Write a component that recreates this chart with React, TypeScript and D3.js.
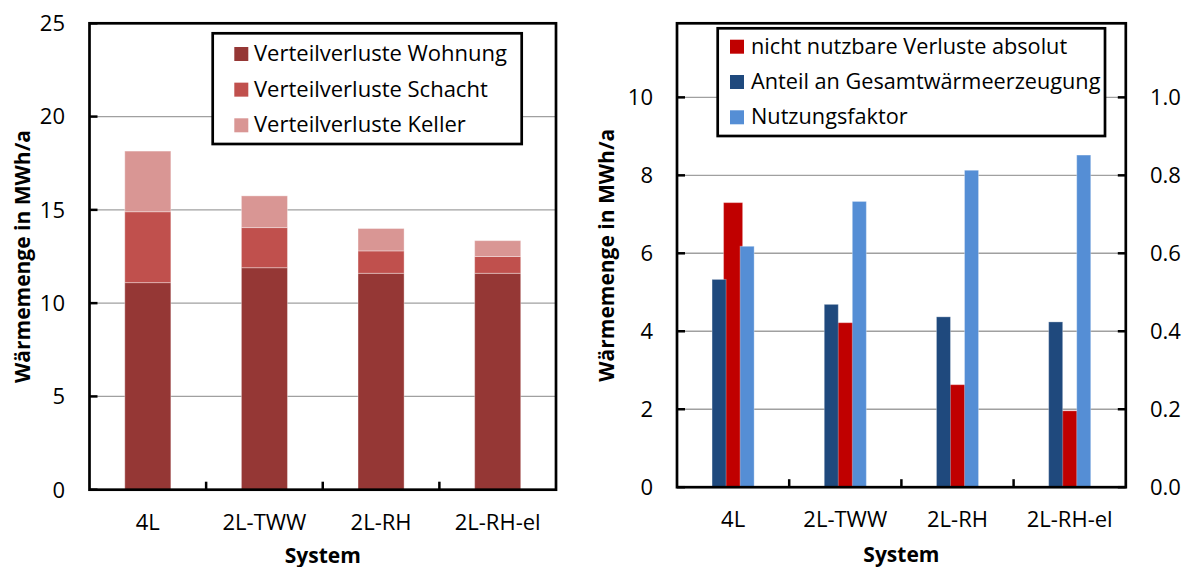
import React from 'react';
import * as d3 from 'd3';

const systems = ['4L', '2L-TWW', '2L-RH', '2L-RH-el'];

// Left chart: stacked distribution losses (MWh/a)
const verlusteWohnung = [11.1, 11.9, 11.6, 11.6];
const verlusteSchacht = [3.8, 2.15, 1.2, 0.9];
const verlusteKeller = [3.25, 1.7, 1.2, 0.85];
const leftTicks = [0, 5, 10, 15, 20, 25];
const leftLegend = ['Verteilverluste Wohnung', 'Verteilverluste Schacht', 'Verteilverluste Keller'];
const leftColors = ['#953735', '#C0504D', '#D99694'];

// Right chart
const nichtNutzbar = [7.3, 4.22, 2.63, 1.96]; // primary axis, MWh/a
const anteilGesamt = [0.533, 0.469, 0.437, 0.424]; // secondary axis
const nutzungsfaktor = [0.618, 0.733, 0.813, 0.852]; // secondary axis
const rightPrimaryTicks = [0, 2, 4, 6, 8, 10];
const rightSecondaryTicks = [0, 0.2, 0.4, 0.6, 0.8, 1.0];
const rightLegend = ['nicht nutzbare Verluste absolut', 'Anteil an Gesamtwärmeerzeugung', 'Nutzungsfaktor'];
const rightColors = ['#C00000', '#1F497D', '#558ED5'];

const FONT = "'Open Sans', sans-serif";
const FS = 22;
const TITLE_FS = 21;
const GRID = '#A0A0A0';

export default function App() {
  // ---------- Left chart ----------
  const L = { x0: 89.5, x1: 556, y0: 23.3, y1: 489.7 };
  const xL = d3.scaleBand<string>().domain(systems).range([L.x0, L.x1]).padding(0);
  const yL = d3.scaleLinear().domain([0, 25]).range([L.y1, L.y0]);
  const stackRows = systems.map((s, i) => ({
    system: s,
    w: verlusteWohnung[i],
    s: verlusteSchacht[i],
    k: verlusteKeller[i],
  }));
  const stacked = d3.stack<any>().keys(['w', 's', 'k'])(stackRows);
  const barWL = xL.bandwidth() * 0.395;

  // ---------- Right chart ----------
  const R = { x0: 677, x1: 1125.8, y0: 23.3, y1: 487.2 };
  const xR = d3.scaleBand<string>().domain(systems).range([R.x0, R.x1]).padding(0);
  const yR = d3.scaleLinear().domain([0, 11.9]).range([R.y1, R.y0]);
  const yR2 = d3.scaleLinear().domain([0, 1.19]).range([R.y1, R.y0]);
  const slot = xR.bandwidth() * 0.125;
  const redW = xR.bandwidth() * 0.17;

  const frame = (P: any) => (
    <rect x={P.x0} y={P.y0} width={P.x1 - P.x0} height={P.y1 - P.y0} fill="none" stroke="#000" strokeWidth={2.7} />
  );

  return (
    <svg width={1188} height={567} style={{ position: 'absolute', left: 0, top: 0, background: '#fff' }} fontFamily={FONT}>
      <rect x={0} y={0} width={1188} height={567} fill="#fff" />

      {/* ===== LEFT CHART ===== */}
      {leftTicks.filter((t) => t > 0 && t < 25).map((t) => (
        <line key={'lg' + t} x1={L.x0} x2={L.x1} y1={yL(t)} y2={yL(t)} stroke={GRID} strokeWidth={1.4} />
      ))}
      {stacked.map((layer, li) =>
        layer.map((d, i) => (
          <rect
            key={'lb' + li + '-' + i}
            x={(xL(systems[i]) as number) + (xL.bandwidth() - barWL) / 2}
            y={yL(d[1])}
            width={barWL}
            height={yL(d[0]) - yL(d[1])}
            fill={leftColors[li]}
            stroke="rgba(255,255,255,0.35)"
            strokeWidth={1}
          />
        ))
      )}
      {frame(L)}
      {leftTicks.map((t) => (
        <g key={'lt' + t}>
          <line x1={L.x0} x2={L.x0 + 8} y1={yL(t)} y2={yL(t)} stroke="#000" strokeWidth={2.5} />
          <text x={65} y={yL(t) + 7.8} textAnchor="end" fontSize={FS} fill="#000">{t}</text>
        </g>
      ))}
      {systems.slice(1).map((s) => (
        <line key={'lxt' + s} x1={xL(s)} x2={xL(s)} y1={L.y1} y2={L.y1 - 8} stroke="#000" strokeWidth={2.5} />
      ))}
      {systems.map((s) => (
        <text key={'lxl' + s} x={(xL(s) as number) + xL.bandwidth() / 2} y={L.y1 + 40} textAnchor="middle" fontSize={FS} fill="#000">{s}</text>
      ))}
      <text x={(L.x0 + L.x1) / 2} y={562.5} textAnchor="middle" fontSize={TITLE_FS} fontWeight="bold" fill="#000">System</text>
      <text transform={`translate(30,${(L.y0 + L.y1) / 2}) rotate(-90)`} textAnchor="middle" fontSize={TITLE_FS} fontWeight="bold" fill="#000">Wärmemenge in MWh/a</text>

      {/* left legend */}
      <rect x={212.7} y={33.3} width={309} height={110.7} fill="#fff" stroke="#000" strokeWidth={2.7} />
      {leftLegend.map((name, i) => {
        const cy = 54 + i * 35.65;
        return (
          <g key={'ll' + i}>
            <rect x={234.3} y={cy - 7} width={14} height={14} fill={leftColors[i]} />
            <text x={254} y={cy + 7} fontSize={FS} fill="#000">{name}</text>
          </g>
        );
      })}

      {/* ===== RIGHT CHART ===== */}
      {rightPrimaryTicks.filter((t) => t > 0).map((t) => (
        <line key={'rg' + t} x1={R.x0} x2={R.x1} y1={yR(t)} y2={yR(t)} stroke={GRID} strokeWidth={1.4} />
      ))}
      {systems.map((s, i) => {
        const c = (xR(s) as number) + xR.bandwidth() / 2;
        return (
          <g key={'rb' + s}>
            <rect x={c - redW / 2} y={yR(nichtNutzbar[i])} width={redW} height={yR(0) - yR(nichtNutzbar[i])} fill={rightColors[0]} stroke="rgba(255,255,255,0.3)" strokeWidth={1} />
            <rect x={c - slot * 1.5} y={yR2(anteilGesamt[i])} width={slot} height={yR2(0) - yR2(anteilGesamt[i])} fill={rightColors[1]} stroke="rgba(255,255,255,0.3)" strokeWidth={1} />
            <rect x={c + slot * 0.5} y={yR2(nutzungsfaktor[i])} width={slot} height={yR2(0) - yR2(nutzungsfaktor[i])} fill={rightColors[2]} stroke="rgba(255,255,255,0.3)" strokeWidth={1} />
          </g>
        );
      })}
      {frame(R)}
      {rightPrimaryTicks.map((t) => (
        <g key={'rt' + t}>
          <line x1={R.x0} x2={R.x0 + 8} y1={yR(t)} y2={yR(t)} stroke="#000" strokeWidth={2.5} />
          <text x={653} y={yR(t) + 7.8} textAnchor="end" fontSize={FS} fill="#000">{t}</text>
        </g>
      ))}
      {rightSecondaryTicks.map((t) => (
        <g key={'rt2' + t}>
          <line x1={R.x1} x2={R.x1 - 8} y1={yR2(t)} y2={yR2(t)} stroke="#000" strokeWidth={2.5} />
          <text x={1150} y={yR2(t) + 7.8} textAnchor="start" fontSize={FS} fill="#000">{d3.format('.1f')(t)}</text>
        </g>
      ))}
      {systems.slice(1).map((s) => (
        <line key={'rxt' + s} x1={xR(s)} x2={xR(s)} y1={R.y1} y2={R.y1 - 8} stroke="#000" strokeWidth={2.5} />
      ))}
      {systems.map((s) => (
        <text key={'rxl' + s} x={(xR(s) as number) + xR.bandwidth() / 2} y={R.y1 + 40} textAnchor="middle" fontSize={FS} fill="#000">{s}</text>
      ))}
      <text x={(R.x0 + R.x1) / 2} y={561.5} textAnchor="middle" fontSize={TITLE_FS} fontWeight="bold" fill="#000">System</text>
      <text transform={`translate(614,${(R.y0 + R.y1) / 2}) rotate(-90)`} textAnchor="middle" fontSize={TITLE_FS} fontWeight="bold" fill="#000">Wärmemenge in MWh/a</text>

      {/* right legend */}
      <rect x={717.7} y={28.3} width={387.3} height={107.7} fill="#fff" stroke="#000" strokeWidth={2.7} />
      {rightLegend.map((name, i) => {
        const cy = 46.7 + i * 35.3;
        return (
          <g key={'rl' + i}>
            <rect x={730} y={cy - 7} width={14} height={14} fill={rightColors[i]} />
            <text x={751} y={cy + 7} fontSize={21.7} fill="#000">{name}</text>
          </g>
        );
      })}
    </svg>
  );
}
